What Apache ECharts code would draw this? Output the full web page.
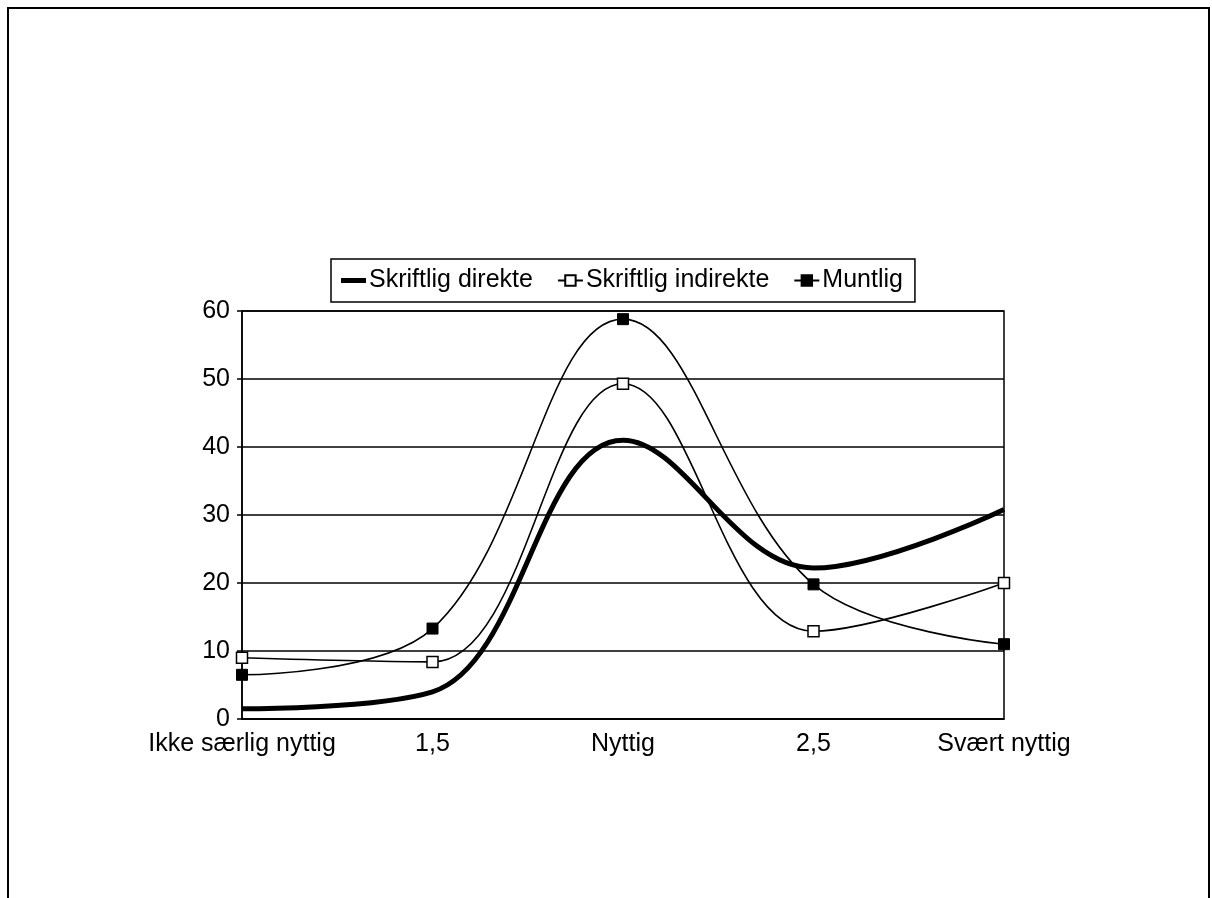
<!DOCTYPE html>
<html>
<head>
<meta charset="utf-8">
<script src="https://cdn.jsdelivr.net/npm/echarts@6/dist/echarts.min.js"></script>
<style>
html,body{margin:0;padding:0;background:#fff;}
#chart{width:1212px;height:898px;}
</style>
</head>
<body>
<div id="chart"></div>
<script>
const categories = ['Ikke særlig nyttig', '1,5', 'Nyttig', '2,5', 'Svært nyttig'];
const seriesNames = ['Skriftlig direkte', 'Skriftlig indirekte', 'Muntlig'];
const skriftligDirekte = [1.5, 4, 41, 22.2, 30.8];
const skriftligIndirekte = [9, 8.4, 49.3, 12.9, 20];
const muntlig = [6.5, 13.3, 58.8, 19.8, 11];
const yTicks = [0, 10, 20, 30, 40, 50, 60];

const FONT = '"Liberation Sans", Arial, Helvetica, sans-serif';
const SMOOTH = 0.38;
const chart = echarts.init(document.getElementById('chart'), null, {renderer: 'canvas'});
chart.setOption({
  backgroundColor: '#fff',
  animation: false,
  graphic: [{
    type: 'rect',
    shape: {x: 8, y: 8, width: 1201, height: 900},
    style: {fill: 'none', stroke: '#000', lineWidth: 2},
    silent: true
  }],
  legend: {
    left: 331,
    top: 259,
    orient: 'horizontal',
    borderColor: '#000',
    borderWidth: 1.5,
    padding: [9, 12, 9, 10],
    itemWidth: 25,
    itemHeight: 13,
    itemGap: 24,
    textStyle: {fontFamily: FONT, fontSize: 25, color: '#000', padding: [0, 0, 0, -2]},
    data: [
      {name: seriesNames[0], icon: 'path://M0,0h25v5h-25z'},
      {name: seriesNames[1]},
      {name: seriesNames[2]}
    ]
  },
  grid: {
    left: 242, right: 208, top: 311, bottom: 179,
    show: true, borderColor: '#000', borderWidth: 1.5, backgroundColor: 'transparent'
  },
  xAxis: {
    type: 'category',
    data: categories,
    boundaryGap: false,
    axisLine: {show: true, lineStyle: {color: '#000', width: 1.5}},
    axisTick: {show: false},
    axisLabel: {fontFamily: FONT, fontSize: 25, color: '#000', margin: 13, interval: 0},
    splitLine: {show: false}
  },
  yAxis: {
    type: 'value',
    min: 0, max: 60, interval: 10,
    axisLine: {show: true, lineStyle: {color: '#000', width: 1.5}},
    axisTick: {show: true, inside: false, length: 5, lineStyle: {color: '#000', width: 1.5}},
    axisLabel: {fontFamily: FONT, fontSize: 25, color: '#000', margin: 12,
      formatter: v => yTicks.includes(v) ? String(v) : ''},
    splitLine: {show: true, lineStyle: {color: '#000', width: 1.5}}
  },
  series: [
    {
      name: seriesNames[0], type: 'line', data: skriftligDirekte, smooth: SMOOTH,
      symbol: 'none', lineStyle: {color: '#000', width: 5}, itemStyle: {color: '#000'}, z: 3
    },
    {
      name: seriesNames[1], type: 'line', data: skriftligIndirekte, smooth: SMOOTH,
      symbol: 'rect', symbolSize: 11, showSymbol: true,
      lineStyle: {color: '#000', width: 1.6},
      itemStyle: {color: '#fff', borderColor: '#000', borderWidth: 1.5}, z: 4
    },
    {
      name: seriesNames[2], type: 'line', data: muntlig, smooth: SMOOTH,
      symbol: 'rect', symbolSize: 11, showSymbol: true,
      lineStyle: {color: '#000', width: 1.6},
      itemStyle: {color: '#000', borderColor: '#000', borderWidth: 1}, z: 5
    }
  ]
});
</script>
</body>
</html>
